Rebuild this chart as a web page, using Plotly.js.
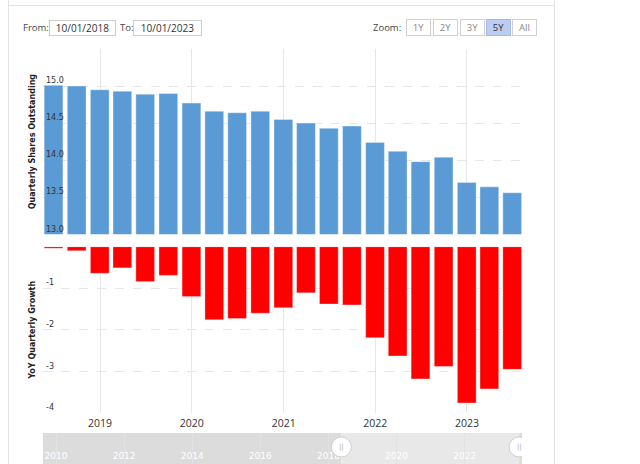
<!DOCTYPE html>
<html>
<head>
<meta charset="utf-8">
<script src="https://cdn.plot.ly/plotly-3.0.1.min.js"></script>
<style>
  html, body { margin: 0; padding: 0; background: #ffffff; }
  #chart { width: 640px; height: 464px; }
</style>
</head>
<body>
<div id="chart"></div>
<script>
// Quarter-end dates
const quarters = ['2018-06-30','2018-09-30','2018-12-31','2019-03-31','2019-06-30','2019-09-30','2019-12-31',
  '2020-03-31','2020-06-30','2020-09-30','2020-12-31','2021-03-31','2021-06-30','2021-09-30','2021-12-31',
  '2022-03-31','2022-06-30','2022-09-30','2022-12-31','2023-03-31','2023-06-30'];
// Quarterly shares outstanding
const shares = [15.01, 15.00, 14.95, 14.93, 14.89, 14.90, 14.77, 14.66, 14.64, 14.66, 14.55, 14.50,
  14.43, 14.46, 14.24, 14.12, 13.98, 14.04, 13.70, 13.64, 13.56];
// YoY quarterly growth (%)
const growth = [-0.04, -0.10, -0.64, -0.51, -0.84, -0.69, -1.20, -1.76, -1.73, -1.60, -1.47, -1.11,
  -1.38, -1.40, -2.19, -2.63, -3.18, -2.88, -3.76, -3.42, -2.95];
// Tick labels
const sharesTickVals = [13.0, 13.5, 14.0, 14.5, 15.0, 15.5];
const sharesTickText = ['13.0', '13.5', '14.0', '14.5', '15.0', ''];
const growthTickVals = [-4, -3, -2, -1, 0];
const growthTickText = ['-4', '-3', '-2', '-1', ''];
const zoomButtons = ['1Y', '2Y', '3Y', '5Y', 'All'];
const fromDate = '10/01/2018';
const toDate = '10/01/2023';
// Ranges
const mainRange = ['2018-05-19', '2023-08-08'];
const navRange = ['2009-08-14', '2023-09-08'];

const W = 640, H = 464, L = 43, R = 118, T = 49, B = 0;
const pw = W - L - R, ph = H - T - B;
const px = v => (v - L) / pw;
const py = v => (H - v) / ph;

const traces = [
  { type: 'bar', x: quarters, y: shares, xaxis: 'x2', yaxis: 'y2',
    marker: { color: '#5b9bd5', line: { color: 'rgba(255,255,255,0.35)', width: 1 } },
    hoverinfo: 'skip', showlegend: false },
  { type: 'bar', x: quarters, y: growth, xaxis: 'x', yaxis: 'y',
    marker: { color: '#ff0000', line: { color: 'rgba(255,255,255,0.35)', width: 1 } },
    hoverinfo: 'skip', showlegend: false },
  { type: 'scatter', mode: 'lines', x: navRange, y: [null, null], xaxis: 'x3', yaxis: 'y3',
    hoverinfo: 'skip', showlegend: false }
];

const tickFontY = { family: 'DejaVu Sans', size: 8, color: '#333' };
const titleFont = { family: 'DejaVu Sans', size: 8, color: '#222', weight: 'bold' };

const shapes = [
  // container borders
  { type: 'line', xref: 'paper', yref: 'paper', x0: px(8.5), x1: px(8.5), y0: py(0), y1: py(464), line: { color: '#e3e3e3', width: 1 } },
  { type: 'line', xref: 'paper', yref: 'paper', x0: px(554.5), x1: px(554.5), y0: py(0), y1: py(464), line: { color: '#e3e3e3', width: 1 } },
  { type: 'line', xref: 'paper', yref: 'paper', x0: px(8.5), x1: px(554.5), y0: py(5.5), y1: py(5.5), line: { color: '#e3e3e3', width: 1 } },
  // navigator regions
  { type: 'rect', xref: 'x3', yref: 'y3', x0: navRange[0], x1: mainRange[0], y0: 0, y1: 1, fillcolor: '#dcdcdc', line: { width: 0 }, layer: 'below' },
  { type: 'rect', xref: 'x3', yref: 'y3', x0: mainRange[0], x1: mainRange[1], y0: 0, y1: 1, fillcolor: '#e8e8e8', line: { width: 0 }, layer: 'below' },
  { type: 'rect', xref: 'x3', yref: 'y3', x0: mainRange[1], x1: navRange[1], y0: 0, y1: 1, fillcolor: '#dcdcdc', line: { width: 0 }, layer: 'below' }
];
// navigator handles
[mainRange[0], mainRange[1]].forEach(d => {
  shapes.push({ type: 'circle', xref: 'x3', yref: 'y3', xsizemode: 'pixel', ysizemode: 'pixel',
    xanchor: d, yanchor: 0.55, x0: -10, x1: 10, y0: -10, y1: 10,
    fillcolor: '#ffffff', line: { color: '#d0d0d0', width: 1 }, layer: 'above' });
});

const annFont = { family: 'Open Sans', size: 9.5, color: '#444' };
const annotations = [
  { xref: 'paper', yref: 'paper', x: px(21), y: py(27.5), xanchor: 'left', yanchor: 'middle', text: 'From:', showarrow: false, font: annFont },
  { xref: 'paper', yref: 'paper', x: px(82.5), y: py(27.5), xanchor: 'center', yanchor: 'middle', text: fromDate, showarrow: false,
    font: { family: 'Open Sans', size: 10, color: '#333' }, width: 63, height: 12, borderpad: 1, bordercolor: '#cccccc', borderwidth: 1 },
  { xref: 'paper', yref: 'paper', x: px(118), y: py(27.5), xanchor: 'left', yanchor: 'middle', text: 'To:', showarrow: false, font: annFont },
  { xref: 'paper', yref: 'paper', x: px(167.5), y: py(27.5), xanchor: 'center', yanchor: 'middle', text: toDate, showarrow: false,
    font: { family: 'Open Sans', size: 10, color: '#333' }, width: 65, height: 12, borderpad: 1, bordercolor: '#cccccc', borderwidth: 1 },
  { xref: 'paper', yref: 'paper', x: px(403), y: py(27.5), xanchor: 'right', yanchor: 'middle', text: 'Zoom:', showarrow: false, font: annFont }
];
const btnCenters = [418.5, 445.5, 472, 498, 524];
zoomButtons.forEach((b, i) => {
  const active = b === '5Y';
  annotations.push({ xref: 'paper', yref: 'paper', x: px(btnCenters[i]), y: py(28), xanchor: 'center', yanchor: 'middle',
    text: b, showarrow: false, font: { family: 'Open Sans', size: 9.5, color: active ? '#333' : '#888' },
    width: 21, height: 13, borderpad: 1, bordercolor: active ? '#a4b9e4' : '#d0d0d0', borderwidth: 1,
    bgcolor: active ? '#bccdf3' : '#ffffff' });
});
[mainRange[0], mainRange[1]].forEach(d => {
  annotations.push({ xref: 'x3', yref: 'y3', x: d, y: 0.55, text: '||', showarrow: false,
    font: { family: 'DejaVu Sans', size: 7, color: '#aaa' }, xanchor: 'center', yanchor: 'middle' });
});

const layout = {
  width: W, height: H,
  margin: { l: L, r: R, t: T, b: B, pad: 0 },
  paper_bgcolor: '#ffffff', plot_bgcolor: 'rgba(0,0,0,0)',
  bargap: 0.17,
  showlegend: false,
  xaxis: { type: 'date', range: mainRange, domain: [0, 1], anchor: 'y',
    dtick: 'M12', tick0: '2019-01-01', tickformat: '%Y', showgrid: true, gridcolor: '#e6e6e6', gridwidth: 1,
    zeroline: false, showline: false, ticks: '', ticklabelstandoff: 2, tickfont: { family: 'Open Sans', size: 10.5, color: '#333' } },
  yaxis: { domain: [py(413), py(246.7)], range: [-4, 0], anchor: 'x',
    tickvals: growthTickVals, ticktext: growthTickText, ticklabelposition: 'inside top',
    showgrid: true, gridcolor: '#e6e6e6', griddash: 'dash', zeroline: false, showline: false,
    tickfont: tickFontY,
    title: { text: 'YoY Quarterly Growth', font: titleFont, standoff: 9 } },
  xaxis2: { type: 'date', range: mainRange, matches: 'x', anchor: 'y2', showticklabels: false,
    dtick: 'M12', tick0: '2019-01-01', showgrid: true, gridcolor: '#e6e6e6', zeroline: false, ticks: '' },
  yaxis2: { domain: [py(234.3), 1], range: [13, 15.5], anchor: 'x2',
    tickvals: sharesTickVals, ticktext: sharesTickText, ticklabelposition: 'inside top',
    showgrid: true, gridcolor: '#e6e6e6', griddash: 'dash', zeroline: false, showline: false,
    tickfont: tickFontY,
    title: { text: 'Quarterly Shares Outstanding', font: titleFont, standoff: 9 } },
  xaxis3: { type: 'date', range: navRange, anchor: 'y3', dtick: 'M24', tick0: '2010-01-01', tickformat: '%Y',
    ticklabelposition: 'inside', ticks: '', showgrid: true, gridcolor: '#e2e2e2', zeroline: false,
    tickfont: { family: 'DejaVu Sans', size: 9, color: '#ffffff' } },
  yaxis3: { domain: [0, py(433)], range: [0, 1], anchor: 'x3', visible: false, fixedrange: true },
  shapes: shapes,
  annotations: annotations
};

Plotly.newPlot('chart', traces, layout, { displayModeBar: false, staticPlot: true });
</script>
</body>
</html>
